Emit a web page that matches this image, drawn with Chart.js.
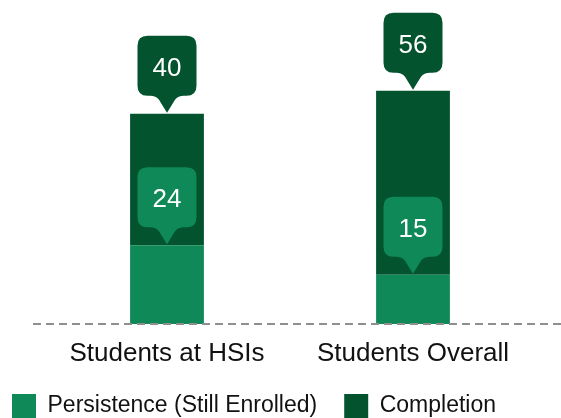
<!DOCTYPE html>
<html>
<head>
<meta charset="utf-8">
<script src="https://cdn.jsdelivr.net/npm/chart.js@4"></script>
<style>
  html, body { margin: 0; padding: 0; background: #fff; overflow: hidden; }
  #wrap { position: relative; width: 561px; height: 428px; }
</style>
</head>
<body>
<div id="wrap"><canvas id="chart"></canvas></div>
<script>
const categories = ['Students at HSIs', 'Students Overall'];
const persistence = [24, 15];
const completion = [40, 56];
const seriesNames = ['Persistence (Still Enrolled)', 'Completion'];

const lightGreen = '#0f8957';
const darkGreen = '#03532f';
const font = '"Liberation Sans", Arial, sans-serif';

// dashed baseline across the full width
const baselinePlugin = {
    id: 'baselinePlugin',
    beforeDraw: (chart) => {
        // push the legend to the left edge like the original
        chart.legend.left = -15;
    },
    afterDatasetsDraw: (chart) => {
        const {ctx} = chart;
        const y = chart.scales.y.getPixelForValue(0);
        ctx.save();
        ctx.strokeStyle = '#8f8f8f';
        ctx.lineWidth = 2;
        ctx.setLineDash([8, 5]);
        ctx.beginPath();
        ctx.moveTo(33, y);
        ctx.lineTo(chart.width, y);
        ctx.stroke();
        ctx.restore();
    }
};

// callout bubbles sitting on top of each segment
const bubblePlugin = {
    id: 'bubblePlugin',
    afterDatasetsDraw: (chart) => {
        const {ctx} = chart;
        ctx.save();
        chart.data.datasets.forEach((ds, i) => {
            const meta = chart.getDatasetMeta(i);
            meta.data.forEach((bar, j) => {
                const tipX = bar.x;
                const tipY = bar.y - 1;
                const w = 59, h = 60, r = 10, ptr = 17, half = 14;
                const bottom = tipY - ptr;
                const top = bottom - h;
                const left = tipX - w / 2;
                ctx.fillStyle = ds.backgroundColor;
                ctx.beginPath();
                ctx.moveTo(left + r, top);
                ctx.lineTo(left + w - r, top);
                ctx.quadraticCurveTo(left + w, top, left + w, top + r);
                ctx.lineTo(left + w, bottom - r);
                ctx.quadraticCurveTo(left + w, bottom, left + w - r, bottom);
                ctx.lineTo(tipX + half + 3, bottom);
                ctx.quadraticCurveTo(tipX + half - 3, bottom, tipX + half - 6, bottom + 4);
                ctx.lineTo(tipX, tipY);
                ctx.lineTo(tipX - half + 6, bottom + 4);
                ctx.quadraticCurveTo(tipX - half + 3, bottom, tipX - half - 3, bottom);
                ctx.lineTo(left + r, bottom);
                ctx.quadraticCurveTo(left, bottom, left, bottom - r);
                ctx.lineTo(left, top + r);
                ctx.quadraticCurveTo(left, top, left + r, top);
                ctx.closePath();
                ctx.fill();

                ctx.fillStyle = '#ffffff';
                ctx.font = '26px ' + font;
                ctx.textAlign = 'center';
                ctx.textBaseline = 'middle';
                ctx.fillText(String(ds.data[j]), tipX, top + h / 2 + 3);
            });
        });
        ctx.restore();
    }
};

const chart = new Chart(document.getElementById('chart'), {
    type: 'bar',
    data: {
        labels: categories,
        datasets: [
            {
                label: seriesNames[0],
                data: persistence,
                backgroundColor: lightGreen,
                categoryPercentage: 1,
                barPercentage: 0.3
            },
            {
                label: seriesNames[1],
                data: completion,
                backgroundColor: darkGreen,
                categoryPercentage: 1,
                barPercentage: 0.3
            }
        ]
    },
    options: {
        responsive: true,
        maintainAspectRatio: false,
        animation: false,
        layout: {
            padding: {top: 25, left: 0, right: 0, bottom: 0}
        },
        plugins: {
            tooltip: {enabled: false},
            legend: {
                position: 'bottom',
                align: 'start',
                labels: {
                    boxWidth: 24,
                    boxHeight: 24,
                    padding: 27,
                    color: '#111',
                    font: {size: 23, family: font}
                }
            }
        },
        scales: {
            x: {
                stacked: true,
                grid: {display: false, drawTicks: false},
                border: {display: false},
                ticks: {
                    padding: 14,
                    color: '#111',
                    font: {size: 26, family: font}
                },
                afterFit: (scale) => { scale.height = 43; }
            },
            y: {
                stacked: true,
                min: 0,
                max: 91,
                grid: {display: false, drawTicks: false},
                border: {display: false},
                ticks: {display: false},
                afterFit: (scale) => { scale.width = 44; }
            },
            yRight: {
                position: 'right',
                grid: {display: false, drawTicks: false},
                border: {display: false},
                ticks: {display: false},
                afterFit: (scale) => { scale.width = 25; }
            }
        }
    },
    plugins: [baselinePlugin, bubblePlugin]
});
</script>
</body>
</html>
